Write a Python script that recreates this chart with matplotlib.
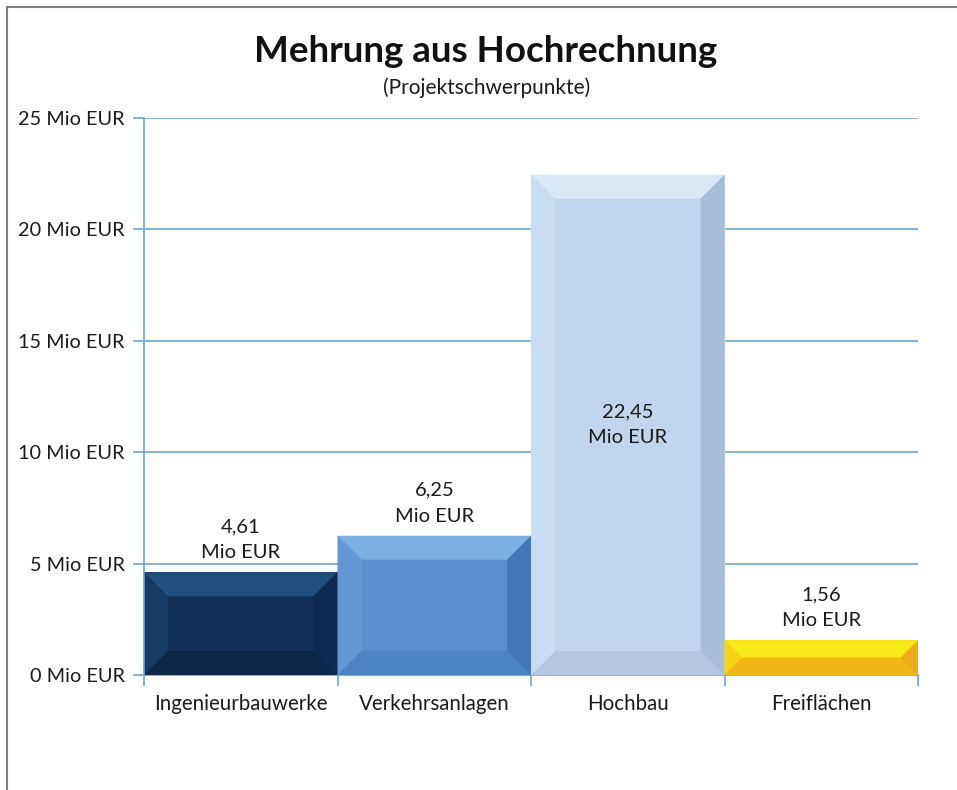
import matplotlib
matplotlib.use("Agg")
import matplotlib.pyplot as plt
from matplotlib.patches import Polygon
from matplotlib.lines import Line2D

# ---- data ----
categories = ["Ingenieurbauwerke", "Verkehrsanlagen", "Hochbau", "Freiflächen"]
values = [4.61, 6.25, 22.45, 1.56]
value_labels = ["4,61\nMio EUR", "6,25\nMio EUR", "22,45\nMio EUR", "1,56\nMio EUR"]
yticks = [0, 5, 10, 15, 20, 25]
ytick_labels = ["0 Mio EUR", "5 Mio EUR", "10 Mio EUR", "15 Mio EUR", "20 Mio EUR", "25 Mio EUR"]
title = "Mehrung aus Hochrechnung"
subtitle = "(Projektschwerpunkte)"

# colours: base, top, left, right, bottom
bar_colors = [
    ("#122f58", "#21507f", "#173a66", "#0f2a50", "#0d2749"),
    ("#5a8ecc", "#7cafe2", "#6398d4", "#4377ba", "#4d84c4"),
    ("#c0d6ee", "#d9e9f8", "#c9ddf2", "#a8bed8", "#b3c7e0"),
    ("#f4c818", "#f7e81a", "#f5d419", "#ecab17", "#f0b716"),
]

plt.rcParams['font.family'] = ['Lato', 'DejaVu Sans']

W, H = 957, 790
fig = plt.figure(figsize=(W / 100, H / 100), dpi=100)
fig.patch.set_facecolor("white")

ax_l, ax_r, ax_t, ax_b = 144, 918, 118, 675
ax = fig.add_axes([ax_l / W, (H - ax_b) / H, (ax_r - ax_l) / W, (ax_b - ax_t) / H])
ax.set_xlim(0, len(categories))
ax.set_ylim(0, 25)

grid_c = "#6fa7c7"
for y in yticks[1:]:
    ax.axhline(y, color=grid_c, lw=1.2, zorder=0)

xs = [i + 0.5 for i in range(len(categories))]
bars = ax.bar(xs, values, width=1.0, color=[c[0] for c in bar_colors],
              edgecolor="none", zorder=2)

px_x = (ax_r - ax_l) / len(categories)
px_y = (ax_b - ax_t) / 25.0
bev_px = 24
for rect, cols in zip(bars, bar_colors):
    x0 = rect.get_x(); w = rect.get_width(); h = rect.get_height()
    x1 = x0 + w
    hp = h * px_y
    b = min(bev_px, hp / 2.0)
    bx = b / px_x
    by = b / px_y
    base, top, left, right, bottom = cols
    ax.add_patch(Polygon([(x0, h), (x1, h), (x1 - bx, h - by), (x0 + bx, h - by)],
                         closed=True, fc=top, ec="none", zorder=3))
    ax.add_patch(Polygon([(x0, 0), (x1, 0), (x1 - bx, by), (x0 + bx, by)],
                         closed=True, fc=bottom, ec="none", zorder=3))
    ax.add_patch(Polygon([(x0, 0), (x0, h), (x0 + bx, h - by), (x0 + bx, by)],
                         closed=True, fc=left, ec="none", zorder=3))
    ax.add_patch(Polygon([(x1, 0), (x1, h), (x1 - bx, h - by), (x1 - bx, by)],
                         closed=True, fc=right, ec="none", zorder=3))

# value labels
for x, v, lab in zip(xs, values, value_labels):
    if v > 15:
        ax.text(x, v / 2, lab, ha="center", va="center", fontsize=14.5,
                color="#1a1a1a", linespacing=1.65, zorder=5)
    else:
        ax.annotate(lab, (x, v), xytext=(0, 8), textcoords="offset points",
                    ha="center", va="bottom", fontsize=14.5, color="#1a1a1a",
                    linespacing=1.65, zorder=5)

# axes styling
for s in ["top", "right"]:
    ax.spines[s].set_visible(False)
ax.spines["left"].set_color(grid_c)
ax.spines["bottom"].set_color(grid_c)
ax.spines["left"].set_linewidth(1.2)
ax.spines["bottom"].set_linewidth(1.2)
ax.spines["left"].set_zorder(4)

ax.set_yticks(yticks)
ax.set_yticklabels(ytick_labels, fontsize=14.3, color="#1a1a1a")
ax.tick_params(axis="y", length=8, width=1.2, color=grid_c, pad=6)

ax.set_xticks(range(len(categories) + 1))
ax.set_xticklabels([])
ax.tick_params(axis="x", length=8, width=1.2, color=grid_c, direction="out")
for x, c in zip(xs, categories):
    ax.annotate(c, (x, 0), xytext=(0, -14), textcoords="offset points",
                ha="center", va="top", fontsize=14.8, color="#1a1a1a",
                annotation_clip=False)

fig.text(486 / W, 1 - 51 / H, title, ha="center", va="center",
         fontsize=26.5, fontweight="bold", color="#111111")
fig.text(487 / W, 1 - 88 / H, subtitle, ha="center", va="center",
         fontsize=15, color="#1a1a1a")

# outer frame (top and left only)
fig.add_artist(Line2D([7 / W, 7 / W], [0, 1 - 6.5 / H], transform=fig.transFigure,
                      color="#808080", lw=1.5))
fig.add_artist(Line2D([7 / W, 1], [1 - 6.5 / H, 1 - 6.5 / H], transform=fig.transFigure,
                      color="#808080", lw=1.5))

fig.savefig("out.png", dpi=100, facecolor="white")
